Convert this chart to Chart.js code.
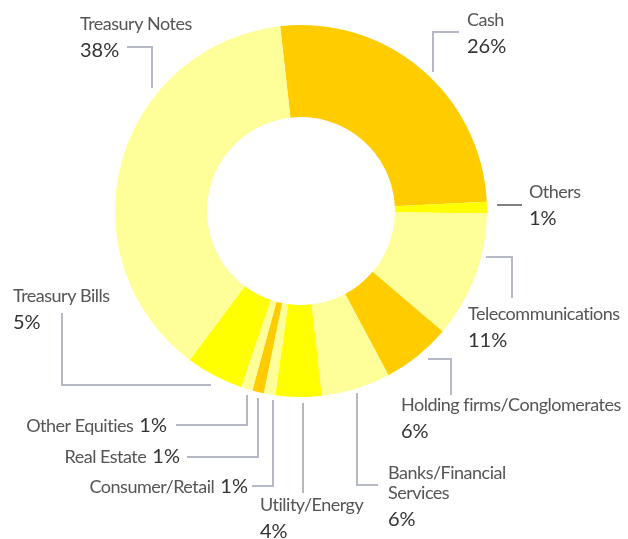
<!DOCTYPE html>
<html>
<head>
<meta charset="utf-8">
<title>Portfolio allocation</title>
<script src="https://cdn.jsdelivr.net/npm/chart.js@4.4.1/dist/chart.umd.min.js"></script>
<style>
  html, body { margin: 0; padding: 0; background: #fff; }
  #wrap { width: 628px; height: 539px; }
</style>
</head>
<body>
<div id="wrap"><canvas id="allocChart" width="628" height="539"></canvas></div>
<script>
// data
const categories = ['Cash', 'Others', 'Telecommunications', 'Holding firms/Conglomerates',
  'Banks/Financial Services', 'Utility/Energy', 'Consumer/Retail', 'Real Estate',
  'Other Equities', 'Treasury Bills', 'Treasury Notes'];
const shares = [26, 1, 11, 6, 6, 4, 1, 1, 1, 5, 38];
const sliceColors = ['#ffcc00', '#ffff00', '#ffff99', '#ffcc00', '#ffff99', '#ffff00',
  '#ffff99', '#ffcc00', '#ffff99', '#ffff00', '#ffff99'];

// callout layout, offsets from the donut centre
// pts = leader polyline, x/y = text anchor, inline = label and % on one line (right aligned)
const callouts = [
  { pts: [[132, -139], [132, -179], [158, -179]], x: 166, y: -185, lines: ['Cash'] },
  { pts: [[196, -6], [221, -6]], x: 228, y: -13, lines: ['Others'], dark: true },
  { pts: [[185, 46], [211, 46], [211, 87]], x: 167, y: 109, lines: ['Telecommunications'] },
  { pts: [[127, 148], [150, 148], [150, 184]], x: 100, y: 200, lines: ['Holding firms/Conglomerates'] },
  { pts: [[56, 182], [56, 274], [77, 274]], x: 87, y: 268, lines: ['Banks/Financial', 'Services'] },
  { pts: [[2, 192], [2, 282]], x: -41, y: 300, lines: ['Utility/Energy'] },
  { pts: [[-28, 189], [-28, 275], [-49, 275]], x: -53, y: 282, inline: true },
  { pts: [[-43, 187], [-43, 246], [-114, 246]], x: -121, y: 252, inline: true },
  { pts: [[-54, 184], [-54, 214], [-125, 214]], x: -134, y: 221, inline: true },
  { pts: [[-90, 174], [-239, 174], [-239, 102]], x: -288, y: 91, lines: ['Treasury Bills'] },
  { pts: [[-149, -123], [-149, -164], [-174, -164]], x: -221, y: -181, lines: ['Treasury Notes'] }
];

const labelFont = '18px Lato, "Noto Sans", sans-serif';
const pctFont = '20px Lato, "Noto Sans", sans-serif';

const calloutPlugin = {
  id: 'callouts',
  afterDraw(chart) {
    const ctx = chart.ctx;
    const arc = chart.getDatasetMeta(0).data[0];
    const cx = arc.x, cy = arc.y;
    ctx.save();
    callouts.forEach((c, i) => {
      // leader line
      ctx.beginPath();
      c.pts.forEach((p, k) => {
        const px = cx + p[0], py = cy + p[1];
        if (k === 0) ctx.moveTo(px, py); else ctx.lineTo(px, py);
      });
      ctx.strokeStyle = c.dark ? '#808080' : '#b5b9c7';
      ctx.lineWidth = 2;
      ctx.stroke();

      const pct = shares[i] + '%';
      const tx = cx + c.x, ty = cy + c.y;
      ctx.textBaseline = 'alphabetic';
      if (c.inline) {
        ctx.font = pctFont;
        ctx.letterSpacing = '0px';
        ctx.fillStyle = '#333';
        ctx.textAlign = 'right';
        ctx.fillText(pct, tx, ty);
        const w = ctx.measureText(pct).width;
        ctx.font = labelFont;
        ctx.letterSpacing = '-0.5px';
        ctx.fillStyle = '#555';
        ctx.fillText(categories[i] + ' ', tx - w - 2, ty);
      } else {
        ctx.textAlign = 'left';
        ctx.font = labelFont;
        ctx.letterSpacing = '-0.5px';
        ctx.fillStyle = '#555';
        c.lines.forEach((t, k) => ctx.fillText(t, tx, ty + k * 20));
        ctx.font = pctFont;
        ctx.letterSpacing = '0px';
        ctx.fillStyle = '#333';
        ctx.fillText(pct, tx, ty + (c.lines.length - 1) * 20 + 27);
      }
    });
    ctx.restore();
  }
};

const ctx = document.getElementById('allocChart').getContext('2d');
const chart = new Chart(ctx, {
  type: 'doughnut',
  data: {
    labels: categories,
    datasets: [{
      data: shares,
      backgroundColor: sliceColors,
      borderWidth: 0,
      offset: 0,
      hoverOffset: 0
    }]
  },
  options: {
    responsive: false,
    animation: false,
    rotation: -6.44,
    cutout: '50.5%',
    layout: { padding: { left: 115, right: 141, top: 25, bottom: 142 } },
    plugins: {
      legend: { display: false },
      tooltip: { enabled: false }
    }
  },
  plugins: [calloutPlugin]
});
</script>
</body>
</html>
